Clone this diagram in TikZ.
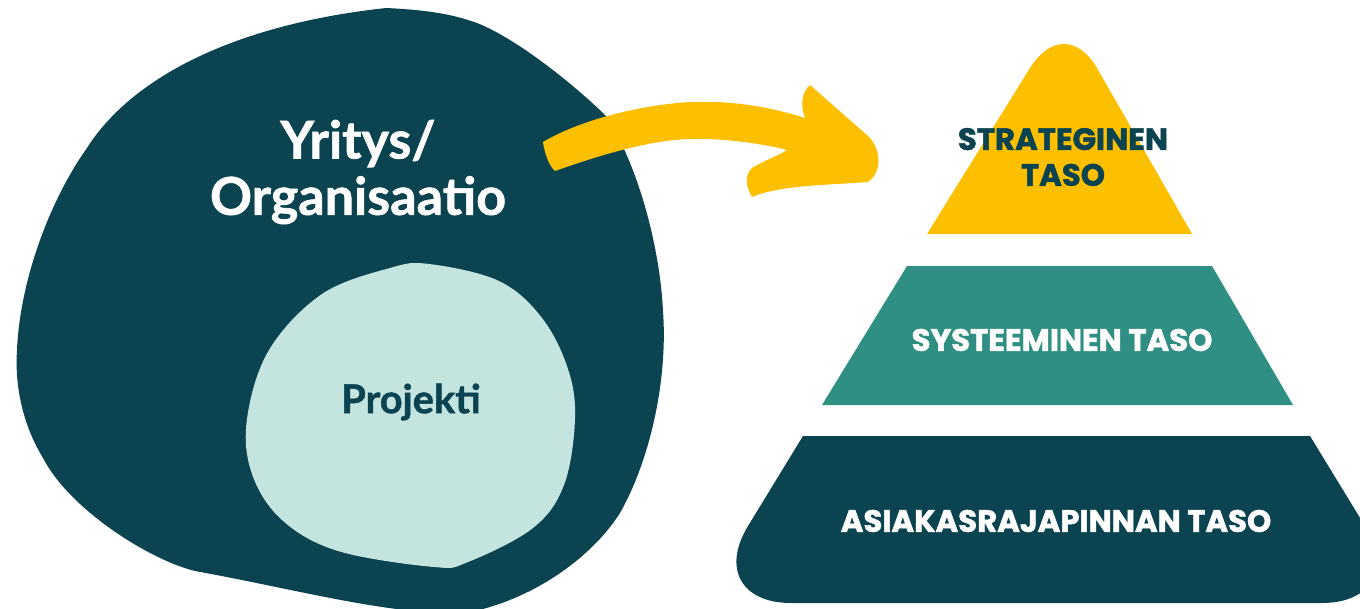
\documentclass[tikz,border=0pt]{standalone}
\usepackage{fontspec}
\setmainfont{Lato}[BoldFeatures={FakeBold=1.2}]
\newfontfamily\pyrfont{Poppins}[BoldFeatures={FakeBold=1.6}]
\usepackage{tikz}
\definecolor{tumma}{HTML}{0B4450}
\definecolor{vaalea}{HTML}{C4E4DF}
\definecolor{turkoosi}{HTML}{2E8F82}
\definecolor{keltainen}{HTML}{FDC000}
\tikzset{
  blobtext/.style={font=\bfseries\fontsize{14.8}{16}\selectfont, text=white, align=center},
  tasotext/.style={font=\pyrfont\bfseries\fontsize{8.75}{10.2}\selectfont, align=center},
}

\begin{document}
\begin{tikzpicture}[x=0.01cm,y=-0.01cm]
    \useasboundingbox (0,0) rectangle (1360,609);
    \clip (0,0) rectangle (1360,609);
    % organisaatio
    \fill[tumma] (386,8) .. controls (430,10) and (455,15) .. (477,23)
        .. controls (520,40) and (580,90) .. (607,117)
        .. controls (640,170) and (660,250) .. (663,311)
        .. controls (668,380) and (650,460) .. (620,513)
        .. controls (590,560) and (530,600) .. (470,612)
        .. controls (400,618) and (300,590) .. (195,571)
        .. controls (150,560) and (70,510) .. (43,458)
        .. controls (20,420) and (15,380) .. (17,350)
        .. controls (20,280) and (50,200) .. (87,148)
        .. controls (130,80) and (230,25) .. (386,8) -- cycle;
    % projekti
    \fill[vaalea] plot[smooth cycle, tension=0.6] coordinates {(429,264) (499,281) (542,318) (568,369) (575,419)
        (564,485) (533,528) (468,562) (434,567) (338,551) (282,520) (252,474)
        (247,419) (269,350) (322,294) (390,268)};
    \node[blobtext] (yritys) at (358,172) {Yritys/\\Organisaatio};
    \node[font=\bfseries\fontsize{11.3}{13}\selectfont, text=tumma] (projekti) at (411,402) {Projekti};
    % nuoli
    \fill[keltainen] (543,142) .. controls (580,120) and (640,105) .. (690,102)
        .. controls (740,100) and (780,110) .. (805,118)
        .. controls (800,105) and (802,92) .. (810,85)
        -- (868,136) .. controls (882,150) and (882,172) .. (868,182)
        .. controls (830,185) and (780,185) .. (752,197)
        .. controls (745,185) and (745,175) .. (752,168)
        .. controls (765,160) and (780,155) .. (787,150)
        .. controls (760,143) and (720,138) .. (690,139)
        .. controls (650,140) and (600,155) .. (555,171)
        .. controls (548,165) and (544,150) .. (543,142) -- cycle;
    % pyramidi
    \fill[keltainen] (927,234) -- (1030,68) .. controls (1050,36) and (1078,36) .. (1097,68) -- (1192,234) -- cycle;
    \fill[turkoosi] (907,266) -- (1212,266) -- (1293,405) -- (822,405) -- cycle;
    \fill[tumma] (803,436) -- (1310,436) [rounded corners=0.9cm] -- (1412,603) -- (701,603) [sharp corners] -- cycle;
    \node[tasotext, text=tumma] (strateginen) at (1063,157) {STRATEGINEN\\TASO};
    \node[tasotext, text=white] (systeeminen) at (1062,340) {SYSTEEMINEN TASO};
    \node[tasotext, text=white] (asiakas) at (1056,521) {ASIAKASRAJAPINNAN TASO};
\end{tikzpicture}
\end{document}
